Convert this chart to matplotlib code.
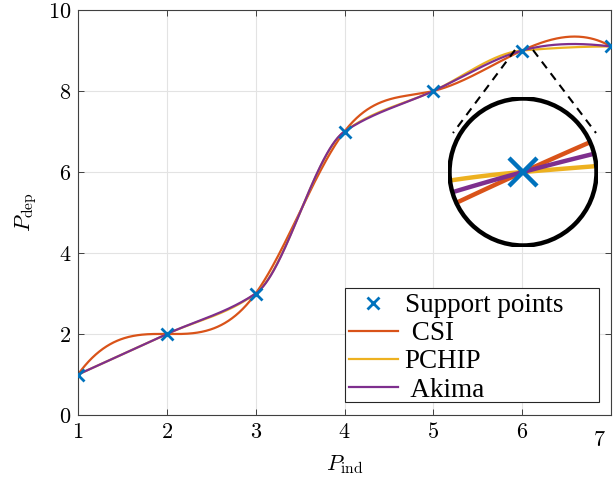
import numpy as np
import matplotlib
matplotlib.use("Agg")
import matplotlib.pyplot as plt
from matplotlib.patches import Circle, Rectangle
from matplotlib.lines import Line2D
from matplotlib.transforms import ScaledTranslation

# support points
x_pts = [1, 2, 3, 4, 5, 6, 7]
y_pts = [1, 2, 3, 7, 8, 9, 9.1]
x_ticks = [1, 2, 3, 4, 5, 6, 7]
y_ticks = [0, 2, 4, 6, 8, 10]
labels = ["Support points", " CSI", "PCHIP", " Akima"]
zoom_pt = (6, 9)

BLUE, ORANGE, YELLOW, PURPLE = "#0072BD", "#D95319", "#EDB120", "#7E2F8E"


def hermite(x, y, s, xq):
    x = np.asarray(x, float); y = np.asarray(y, float)
    i = np.clip(np.searchsorted(x, xq) - 1, 0, len(x) - 2)
    h = x[i + 1] - x[i]
    t = (xq - x[i]) / h
    h00 = 2 * t**3 - 3 * t**2 + 1
    h10 = t**3 - 2 * t**2 + t
    h01 = -2 * t**3 + 3 * t**2
    h11 = t**3 - t**2
    return h00 * y[i] + h10 * h * s[i] + h01 * y[i + 1] + h11 * h * s[i + 1]


def spline_slopes(x, y):
    # not-a-knot cubic spline (MATLAB spline)
    x = np.asarray(x, float); y = np.asarray(y, float)
    n = len(x)
    h = np.diff(x); d = np.diff(y) / h
    A = np.zeros((n, n)); b = np.zeros(n)
    for k in range(1, n - 1):
        A[k, k - 1] = h[k]
        A[k, k] = 2 * (h[k - 1] + h[k])
        A[k, k + 1] = h[k - 1]
        b[k] = 3 * (h[k] * d[k - 1] + h[k - 1] * d[k])
    x31 = x[2] - x[0]
    A[0, 0] = h[1]; A[0, 1] = x31
    b[0] = ((h[0] + 2 * x31) * h[1] * d[0] + h[0]**2 * d[1]) / x31
    xn = x[-1] - x[-3]
    A[-1, -2] = xn; A[-1, -1] = h[-2]
    b[-1] = (h[-1]**2 * d[-2] + (2 * xn + h[-1]) * h[-2] * d[-1]) / xn
    return np.linalg.solve(A, b)


def pchip_slopes(x, y):
    x = np.asarray(x, float); y = np.asarray(y, float)
    h = np.diff(x); d = np.diff(y) / h
    n = len(x)
    s = np.zeros(n)
    for k in range(1, n - 1):
        if d[k - 1] * d[k] > 0:
            w1 = 2 * h[k] + h[k - 1]
            w2 = h[k] + 2 * h[k - 1]
            s[k] = (w1 + w2) / (w1 / d[k - 1] + w2 / d[k])

    def end(h0, h1, d0, d1):
        e = ((2 * h0 + h1) * d0 - h0 * d1) / (h0 + h1)
        if np.sign(e) != np.sign(d0):
            e = 0.0
        elif np.sign(d0) != np.sign(d1) and abs(e) > abs(3 * d0):
            e = 3 * d0
        return e

    s[0] = end(h[0], h[1], d[0], d[1])
    s[-1] = end(h[-1], h[-2], d[-1], d[-2])
    return s


def makima_slopes(x, y):
    x = np.asarray(x, float); y = np.asarray(y, float)
    d = np.diff(y) / np.diff(x)
    dm1 = 2 * d[0] - d[1]; dm2 = 2 * dm1 - d[0]
    dp1 = 2 * d[-1] - d[-2]; dp2 = 2 * dp1 - d[-1]
    D = np.concatenate([[dm2, dm1], d, [dp1, dp2]])
    s = np.zeros(len(x))
    for i in range(len(x)):
        a, b_, c, e = D[i], D[i + 1], D[i + 2], D[i + 3]
        w1 = abs(e - c) + abs(e + c) / 2
        w2 = abs(b_ - a) + abs(b_ + a) / 2
        s[i] = 0.0 if w1 + w2 == 0 else (w1 * b_ + w2 * c) / (w1 + w2)
    return s


slopes = [spline_slopes(x_pts, y_pts), pchip_slopes(x_pts, y_pts),
          makima_slopes(x_pts, y_pts)]
colors = [ORANGE, YELLOW, PURPLE]

plt.rcParams["mathtext.fontset"] = "cm"
W, H = 613, 478
fig = plt.figure(figsize=(W / 100, H / 100), dpi=100)
ax = fig.add_axes([78 / W, 1 - 415 / H, (611 - 78) / W, (415 - 10) / H])

xq = np.linspace(1, 7, 600)
hm = [ax.plot(x_pts, y_pts, "x", color=BLUE, ms=8, mew=2, zorder=5)[0]]
for s, c in zip(slopes, colors):
    hm.append(ax.plot(xq, hermite(x_pts, y_pts, s, xq), color=c, lw=1.6)[0])

ax.set_xlim(1, 7)
ax.set_ylim(0, 10)
ax.set_xticks(x_ticks)
ax.set_yticks(y_ticks)
ax.set_xticklabels([f"${v}$" for v in x_ticks], fontsize=16)
ax.set_yticklabels([f"${v}$" for v in y_ticks], fontsize=16)
ax.tick_params(direction="in", top=True, right=True, length=4, width=0.6,
               color="#262626", pad=5)
ax.grid(True, color="#e3e3e3", lw=0.8)
ax.set_axisbelow(True)
for sp in ax.spines.values():
    sp.set_color("#404040")
    sp.set_linewidth(0.8)
ax.set_xlabel(r"$P_{\rm ind}$", fontsize=16, labelpad=2)
ax.set_ylabel(r"$P_{\rm dep}$", fontsize=16, labelpad=6)

# last x tick label sits lower and left in the reference
lab7 = ax.get_xticklabels()[-1]
lab7.set_transform(lab7.get_transform() + ScaledTranslation(-0.12, -0.08, fig.dpi_scale_trans))

# legend: frame drawn separately, MATLAB-style wide box
box = Rectangle((345 / W, 1 - 402 / H), (599 - 345) / W, (402 - 288) / H,
                transform=fig.transFigure, fc="white", ec="#262626", lw=0.8,
                zorder=8)
fig.add_artist(box)
leg = ax.legend(hm, labels, loc="upper left", bbox_to_anchor=(349 / W, 1 - 293 / H),
                bbox_transform=fig.transFigure,
                prop={"family": "Liberation Serif", "size": 19.5},
                frameon=False, handlelength=1.8, handletextpad=0.25,
                borderpad=0.0, labelspacing=0.12, borderaxespad=0.0)
leg.set_zorder(9)
leg.remove()
fig.add_artist(leg)

# magnified circle around (6, 9)
cx, cy, r = 523, 172, 75
iax = fig.add_axes([(cx - r) / W, 1 - (cy + r) / H, 2 * r / W, 2 * r / H])
iax.set_axis_off()
w = 0.1
hh = w / 0.45
iax.set_xlim(zoom_pt[0] - w / 2, zoom_pt[0] + w / 2)
iax.set_ylim(zoom_pt[1] - hh / 2, zoom_pt[1] + hh / 2)
circ = Circle((0.5, 0.5), 0.49, transform=iax.transAxes, fill=False,
              ec="black", lw=3.2, zorder=10)
iax.add_patch(circ)
clipc = Circle((0.5, 0.5), 0.49, transform=iax.transAxes)
xi = np.linspace(zoom_pt[0] - w / 2, zoom_pt[0] + w / 2, 100)
for s, c in zip(slopes, colors):
    ln, = iax.plot(xi, hermite(x_pts, y_pts, s, xi), color=c, lw=3.2)
    ln.set_clip_path(clipc)
mk, = iax.plot([zoom_pt[0]], [zoom_pt[1]], "x", color=BLUE, ms=20, mew=3.2, zorder=6)

# dashed connectors
for (x0, y0), (x1, y1) in [((515, 50), (453, 133)), ((533, 50), (596, 133))]:
    fig.add_artist(Line2D([x0 / W, x1 / W], [1 - y0 / H, 1 - y1 / H],
                          transform=fig.transFigure, color="black", lw=1.5,
                          ls=(0, (4, 3))))

fig.savefig("out.png", dpi=100)
